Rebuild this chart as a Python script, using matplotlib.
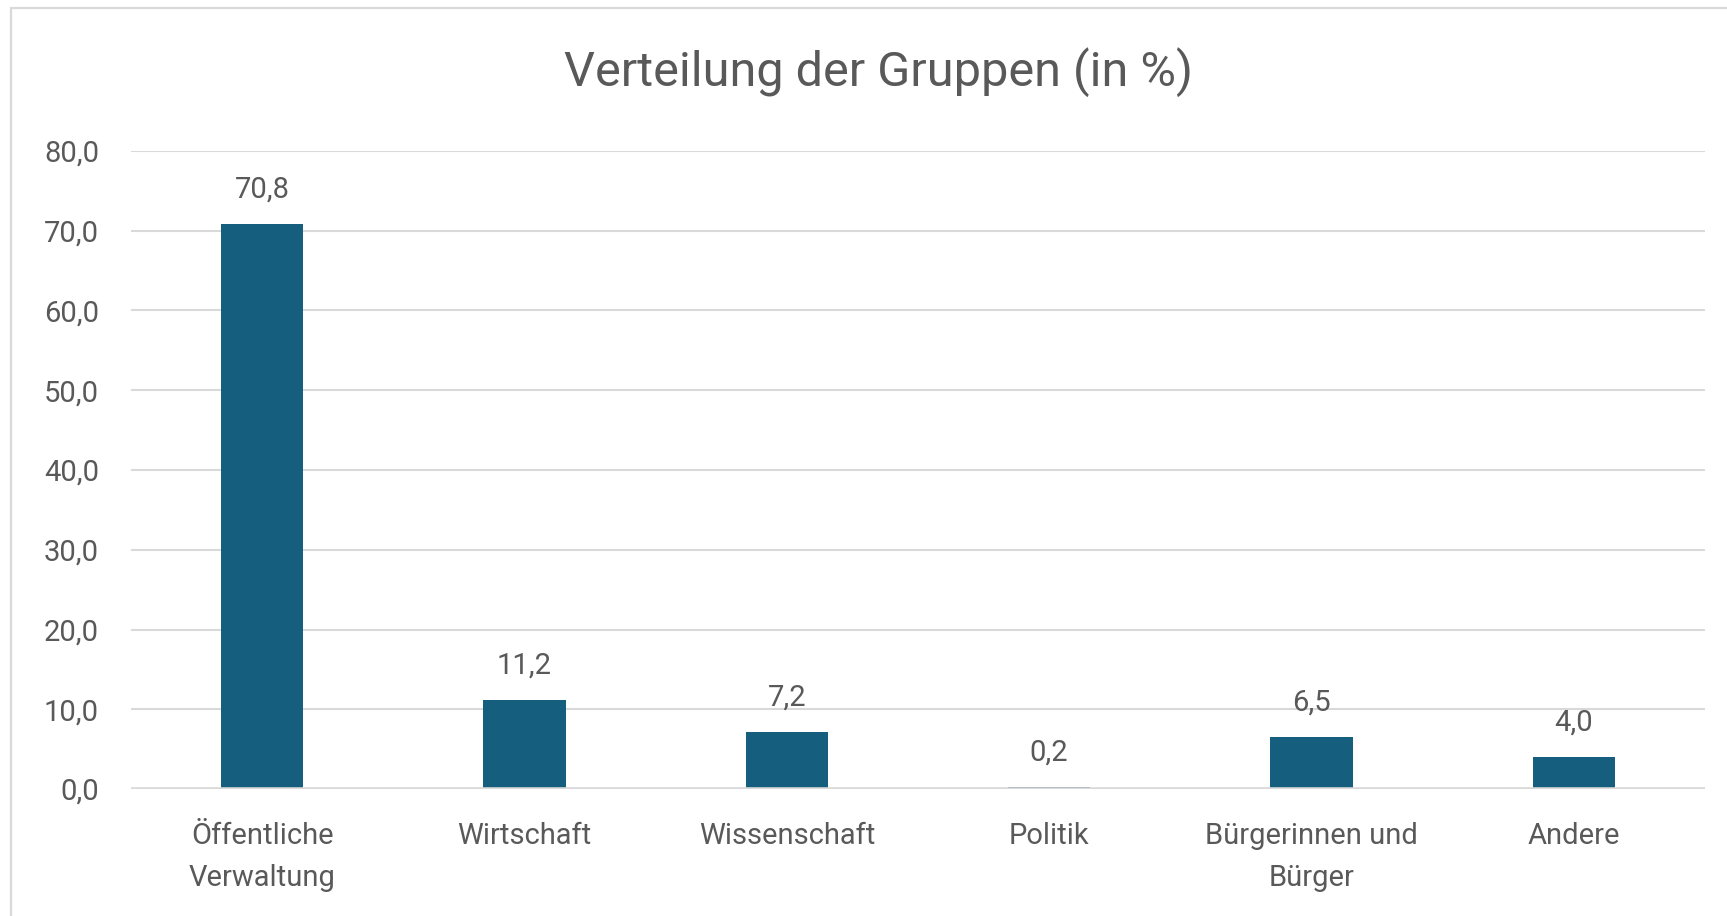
import matplotlib.pyplot as plt
from matplotlib.patches import Rectangle

# Daten
kategorien = ['Öffentliche\nVerwaltung', 'Wirtschaft', 'Wissenschaft', 'Politik',
              'Bürgerinnen und\nBürger', 'Andere']
werte = [70.8, 11.2, 7.2, 0.2, 6.5, 4.0]
y_ticks = [0, 10, 20, 30, 40, 50, 60, 70, 80]

plt.rcParams['font.family'] = ['Roboto', 'DejaVu Sans']

W, H = 1727, 916
fig = plt.figure(figsize=(W / 100, H / 100), dpi=100)
ax = fig.add_axes([131 / W, 1 - 789 / H, (1705 - 131) / W, (789 - 151) / H])

text_col = '#595959'
grid_col = '#D9D9D9'

x = range(len(werte))
ax.bar(x, werte, width=0.315, color='#165E7E', zorder=3)

for xi, v in zip(x, werte):
    ax.annotate(f'{v:.1f}'.replace('.', ','), (xi, v), xytext=(0, 19),
                textcoords='offset points', ha='center', va='baseline',
                fontsize=21, color=text_col)

ax.set_xlim(-0.5, len(werte) - 0.5)
ax.set_ylim(0, 80)
ax.set_yticks(y_ticks)
ax.set_yticklabels([f'{t:.1f}'.replace('.', ',') for t in y_ticks])
ax.set_xticks(list(x))
ax.set_xticklabels(kategorien, linespacing=1.6)
ax.tick_params(axis='y', length=0, pad=23, labelsize=21, labelcolor=text_col)
ax.tick_params(axis='x', length=0, pad=24, labelsize=21, labelcolor=text_col)

ax.grid(axis='y', color=grid_col, linewidth=1.5, zorder=0)
# Achsenlinie bei 0 liegt wie in Excel über den Balken
ax.axhline(0, color=grid_col, linewidth=2.6, zorder=4)
for s in ax.spines.values():
    s.set_visible(False)

fig.text(878 / W, 1 - 72 / H, 'Verteilung der Gruppen (in %)', ha='center', va='center',
         fontsize=35, color=text_col)

# Rahmen des Diagramms
fig.patches.append(Rectangle((11 / W, -0.1), 1.2, 1 - 8 / H + 0.1, transform=fig.transFigure,
                             fill=False, edgecolor=grid_col, linewidth=1.6, clip_on=False))

fig.savefig('out.png', dpi=100)
